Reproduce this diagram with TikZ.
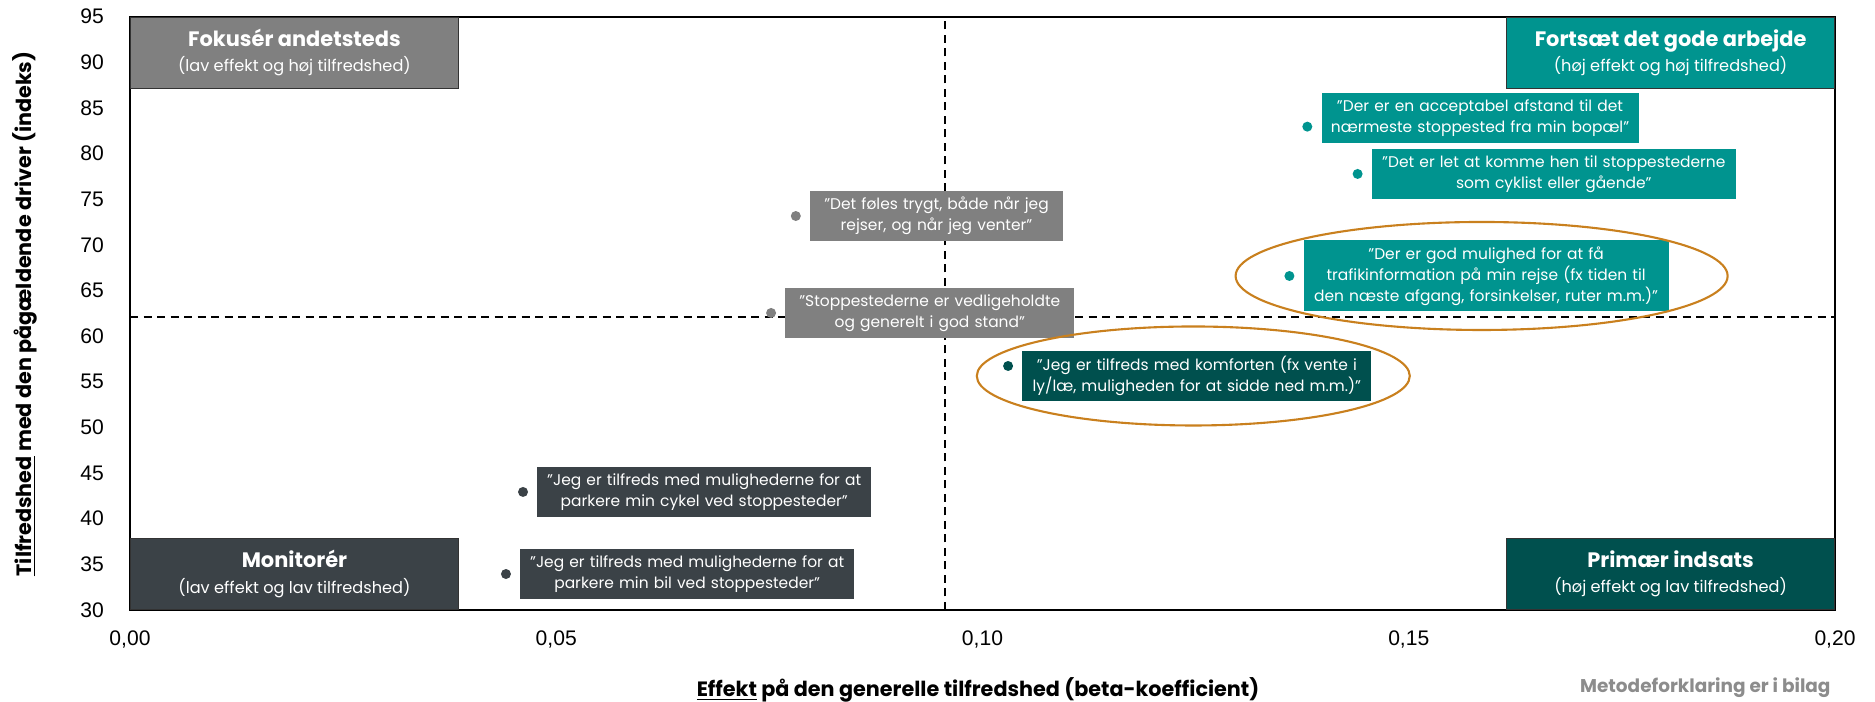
\documentclass[tikz,border=0pt]{standalone}
\usepackage{fontspec}
\setmainfont{Poppins}
\newfontfamily\axisfont{Liberation Sans}
\usetikzlibrary{positioning,calc}
\definecolor{midgray}{HTML}{808080}
\definecolor{notegray}{HTML}{8C8C8C}
\definecolor{slate}{HTML}{3B4247}
\definecolor{petrol}{HTML}{00948F}
\definecolor{deeppetrol}{HTML}{00504E}
\definecolor{ochre}{HTML}{C9801E}
\newcommand{\quadhead}{\bfseries\fontsize{11.9}{14}\selectfont}
\newcommand{\quadsub}{\mdseries\fontsize{9.2}{11}\selectfont}
\tikzset{
    node distance=0.17cm,
    quadrant/.style = {
        draw=black!80,
        fill=#1,
        shape=rectangle,
        text=white,
        align=center,
        minimum width=6.56cm,
        minimum height=1.42cm,
        inner sep=0pt,
        line width=0.5pt
    },
    quotebox/.style = {
        fill=#1,
        shape=rectangle,
        text=white,
        align=center,
        inner sep=0pt,
        minimum height=1cm,
        font=\fontsize{8.8}{11.95}\selectfont
    },
    datadot/.style = {
        fill=#1,
        shape=circle,
        inner sep=0pt,
        minimum size=0.2cm
    },
    guide/.style = {
        dash pattern=on 0.16cm off 0.11cm,
        line width=1pt
    },
    highlight/.style = {
        draw=ochre,
        line width=1.2pt
    },
    tick/.style = {
        font=\axisfont\fontsize{12}{14}\selectfont
    },
    axistitle/.style = {
        font=\bfseries\fontsize{11.8}{14}\selectfont
    }
}

\begin{document}
\begin{tikzpicture}[x=1.705cm, y=0.18256cm]
            \useasboundingbox (-1.525,19.921) rectangle (20.469,96.827);

            \draw[guide] (9.56,30) -- (9.56,95);
            \draw[guide] (0,62.13) -- (20,62.13);
            \draw[line width=1pt] (0,30) rectangle (20,95);

            \node[quadrant=midgray, anchor=north west] (fokus) at (0,95) {{\quadhead Fokusér andetsteds}\\[2.5pt]{\quadsub (lav effekt og høj tilfredshed)}};
            \node[quadrant=petrol, anchor=north east] (fortsaet) at (20,95) {{\quadhead Fortsæt det gode arbejde}\\[2.5pt]{\quadsub (høj effekt og høj tilfredshed)}};
            \node[quadrant=slate, anchor=south west] (monitor) at (0,30) {{\quadhead Monitorér}\\[2.5pt]{\quadsub (lav effekt og lav tilfredshed)}};
            \node[quadrant=deeppetrol, anchor=south east] (primaer) at (20,30) {{\quadhead Primær indsats}\\[2.5pt]{\quadsub (høj effekt og lav tilfredshed)}};

            \foreach \yv in {30,35,...,95}
                \node[tick, anchor=east] (ytick\yv) at (-0.235,\yv) {\yv};
            \foreach \xv/\xlbl in {0/{0,00},5/{0,05},10/{0,10},15/{0,15},20/{0,20}}
                \node[tick] (xtick\xv) at (\xv,26.82) {\xlbl};

            \node[axistitle, rotate=90] (ytitle) at (-1.232,62.43) {\underline{Tilfredshed} med den pågældende driver (indeks)};
            \node[axistitle] (xtitle) at (9.947,21.24) {\underline{Effekt} på den generelle tilfredshed (beta-koefficient)};
            \node[anchor=east, text=notegray, font=\bfseries\fontsize{10.5}{12}\selectfont] (note) at (20.02,21.45) {Metodeforklaring er i bilag};

            \node[datadot=midgray] (trygt) at (7.81,73.16) {};
            \node[quotebox=midgray, text width=5.06cm, right=of trygt] (trygtlbl) {”Det føles trygt, både når jeg\\rejser, og når jeg venter”};

            \node[datadot=midgray] (vedlige) at (7.52,62.54) {};
            \node[quotebox=midgray, text width=5.78cm, right=of vedlige] (vedligelbl) {”Stoppestederne er vedligeholdte\\og generelt i god stand”};

            \node[datadot=deeppetrol] (komfort) at (10.30,56.73) {};
            \node[quotebox=deeppetrol, text width=6.98cm, right=of komfort, yshift=-0.2cm] (komfortlbl) {”Jeg er tilfreds med komforten (fx vente i\\ly/læ, muligheden for at sidde ned m.m.)”};

            \node[datadot=petrol] (info) at (13.60,66.59) {};
            \node[quotebox=petrol, text width=7.30cm, minimum height=1.42cm, right=of info] (infolbl) {”Der er god mulighed for at få\\trafikinformation på min rejse (fx tiden til\\den næste afgang, forsinkelser, ruter m.m.)”};

            \node[datadot=petrol] (afstand) at (13.81,82.95) {};
            \node[quotebox=petrol, text width=6.34cm, right=of afstand, yshift=0.17cm] (afstandlbl) {”Der er en acceptabel afstand til det\\nærmeste stoppested fra min bopæl”};

            \node[datadot=petrol] (adgang) at (14.40,77.77) {};
            \node[quotebox=petrol, text width=7.28cm, right=of adgang] (adganglbl) {”Det er let at komme hen til stoppestederne\\som cyklist eller gående”};

            \node[datadot=slate] (cykel) at (4.61,42.93) {};
            \node[quotebox=slate, text width=6.68cm, right=of cykel] (cykellbl) {”Jeg er tilfreds med mulighederne for at\\parkere min cykel ved stoppesteder”};

            \node[datadot=slate] (bil) at (4.41,33.94) {};
            \node[quotebox=slate, text width=6.68cm, right=of bil] (billbl) {”Jeg er tilfreds med mulighederne for at\\parkere min bil ved stoppesteder”};

            \draw[highlight] ([xshift=-0.09cm]infolbl.center) ellipse [x radius=4.92cm, y radius=1.08cm];
            \draw[highlight] ([xshift=-0.07cm]komfortlbl.center) ellipse [x radius=4.33cm, y radius=0.99cm];

\end{tikzpicture}
\end{document}
